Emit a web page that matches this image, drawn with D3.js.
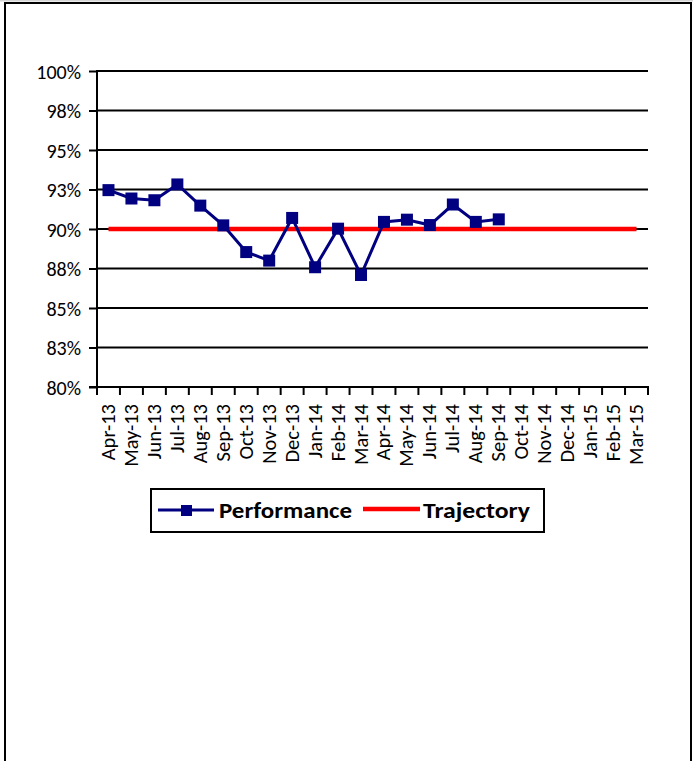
<!DOCTYPE html>
<html>
<head>
<meta charset="utf-8">
<script src="https://cdn.jsdelivr.net/npm/d3@7"></script>
<style>
  html, body { margin: 0; padding: 0; background: #fff; }
  svg { display: block; }
  text { font-family: Carlito, Calibri, Lato, "Liberation Sans", sans-serif; fill: #000; }
</style>
</head>
<body>
<svg id="chart" width="693" height="761"></svg>
<script>
// Monthly categories, Apr-13 .. Mar-15
const months = ["Apr-13","May-13","Jun-13","Jul-13","Aug-13","Sep-13","Oct-13","Nov-13",
  "Dec-13","Jan-14","Feb-14","Mar-14","Apr-14","May-14","Jun-14","Jul-14","Aug-14","Sep-14",
  "Oct-14","Nov-14","Dec-14","Jan-15","Feb-15","Mar-15"];

// Performance (%), reported months only
const performance = [92.46, 91.93, 91.82, 92.82, 91.48, 90.23, 88.54, 88.0, 90.7, 87.58,
  90.02, 87.09, 90.45, 90.59, 90.25, 91.55, 90.45, 90.61,
  null, null, null, null, null, null];

// Trajectory (%) target across the whole year range
const trajectory = [90, 90, 90, 90, 90, 90, 90, 90, 90, 90, 90, 90,
  90, 90, 90, 90, 90, 90, 90, 90, 90, 90, 90, 90];

// Y axis ticks and their labels
const yTicks = [80, 82.5, 85, 87.5, 90, 92.5, 95, 97.5, 100];
const yTickLabels = ["80%", "83%", "85%", "88%", "90%", "93%", "95%", "98%", "100%"];

const svg = d3.select("#chart");

// Outer frame
const frame = svg.append("g");
frame.append("line").attr("x1", 0).attr("x2", 693).attr("y1", 0.5).attr("y2", 0.5)
  .attr("stroke", "#d4d4d4").attr("stroke-width", 2);
frame.append("line").attr("x1", 4).attr("x2", 692).attr("y1", 3).attr("y2", 3)
  .attr("stroke", "#000").attr("stroke-width", 2);
frame.append("line").attr("x1", 5).attr("x2", 5).attr("y1", 2).attr("y2", 761)
  .attr("stroke", "#000").attr("stroke-width", 2);
frame.append("line").attr("x1", 691).attr("x2", 691).attr("y1", 2).attr("y2", 761)
  .attr("stroke", "#000").attr("stroke-width", 2);

const plot = { left: 97, right: 648, top: 71, bottom: 387 };

const x = d3.scaleBand().domain(months).range([plot.left, plot.right]).paddingInner(0).paddingOuter(0);
const y = d3.scaleLinear().domain([80, 100]).range([plot.bottom, plot.top]);
const cx = m => x(m) + x.bandwidth() / 2;

// Horizontal gridlines
svg.append("g").selectAll("line").data(yTicks.filter(v => v > 80)).join("line")
  .attr("x1", plot.left).attr("x2", plot.right)
  .attr("y1", d => y(d)).attr("y2", d => y(d))
  .attr("stroke", "#000").attr("stroke-width", 2);

// Y axis
const yAxis = d3.axisLeft(y).tickValues(yTicks).tickSize(8).tickPadding(8)
  .tickFormat((d, i) => yTickLabels[i]);
const gy = svg.append("g").attr("transform", `translate(${plot.left},0)`).call(yAxis);
gy.select(".domain").attr("stroke", "#000").attr("stroke-width", 2)
  .attr("d", `M0,${plot.top - 1}V${plot.bottom}`);
gy.selectAll(".tick line").attr("stroke", "#000").attr("stroke-width", 2);
gy.selectAll(".tick text").style("font-size", "20px").attr("dy", "0.35em");

// X axis: ticks at category boundaries
const gx = svg.append("g").attr("transform", `translate(0,${plot.bottom})`);
gx.append("line").attr("x1", plot.left - 8).attr("x2", plot.right + 1)
  .attr("y1", 0).attr("y2", 0).attr("stroke", "#000").attr("stroke-width", 2);
gx.selectAll("line.tk").data(d3.range(months.length + 1)).join("line").attr("class", "tk")
  .attr("x1", i => plot.left + i * x.bandwidth()).attr("x2", i => plot.left + i * x.bandwidth())
  .attr("y1", 0).attr("y2", 8).attr("stroke", "#000").attr("stroke-width", 2);
gx.selectAll("text").data(months).join("text")
  .attr("transform", d => `translate(${cx(d) + 6.5},17) rotate(-90)`)
  .attr("text-anchor", "end")
  .style("font-size", "20.5px")
  .text(d => d);

// Trajectory line
const line = d3.line().defined(d => d.v != null).x(d => cx(d.m)).y(d => y(d.v));
svg.append("path")
  .datum(months.map((m, i) => ({ m, v: trajectory[i] })))
  .attr("d", line).attr("fill", "none").attr("stroke", "#ff0000").attr("stroke-width", 4.5);

// Performance line and markers
const perf = months.map((m, i) => ({ m, v: performance[i] }));
svg.append("path").datum(perf).attr("d", line)
  .attr("fill", "none").attr("stroke", "#000080").attr("stroke-width", 3);
svg.append("g").selectAll("rect").data(perf.filter(d => d.v != null)).join("rect")
  .attr("x", d => cx(d.m) - 6).attr("y", d => y(d.v) - 6)
  .attr("width", 12).attr("height", 12).attr("fill", "#000080");

// Legend
const lg = svg.append("g");
lg.append("rect").attr("x", 151).attr("y", 489).attr("width", 393).attr("height", 43)
  .attr("fill", "#fff").attr("stroke", "#000").attr("stroke-width", 2);
lg.append("line").attr("x1", 158).attr("x2", 214).attr("y1", 510).attr("y2", 510)
  .attr("stroke", "#000080").attr("stroke-width", 3);
lg.append("rect").attr("x", 181).attr("y", 505).attr("width", 11).attr("height", 11).attr("fill", "#000080");
lg.append("text").attr("x", 219).attr("y", 510).attr("dy", "0.35em")
  .style("font-size", "22px").style("font-weight", "bold")
  .attr("textLength", 133).attr("lengthAdjust", "spacingAndGlyphs").text("Performance");
lg.append("line").attr("x1", 363).attr("x2", 420).attr("y1", 509).attr("y2", 509)
  .attr("stroke", "#ff0000").attr("stroke-width", 4.5);
lg.append("text").attr("x", 423).attr("y", 510).attr("dy", "0.35em")
  .style("font-size", "22px").style("font-weight", "bold")
  .attr("textLength", 107).attr("lengthAdjust", "spacingAndGlyphs").text("Trajectory");
</script>
</body>
</html>
